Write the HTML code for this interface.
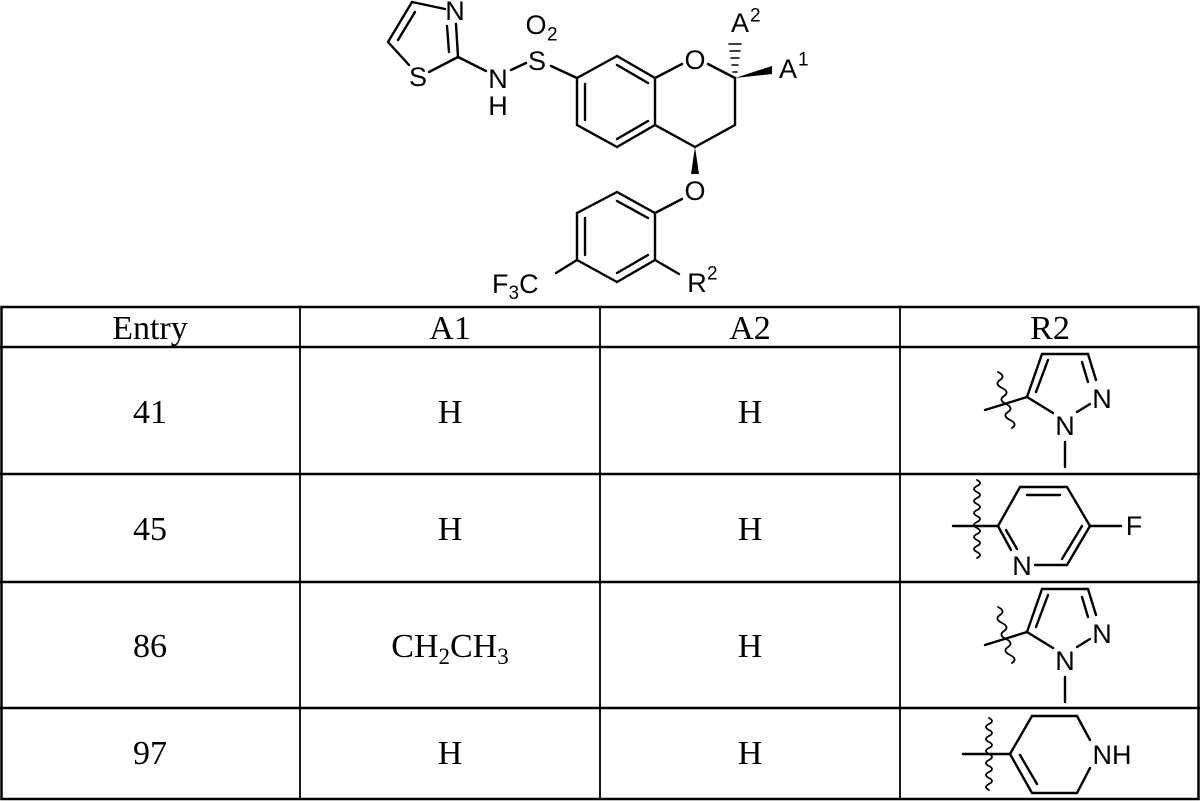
<!DOCTYPE html>
<html><head><meta charset="utf-8"><style>
html,body{margin:0;padding:0;background:#fff}
svg{display:block}
.s{font-family:"Liberation Sans",Arial,sans-serif;font-size:27px;fill:#000}
.sub{font-size:19px}
.t{font-family:"Liberation Serif","Times New Roman",serif;font-size:34px;fill:#000}
.ts{font-size:23px}
</style></head><body>
<svg width="1200" height="801" viewBox="0 0 1200 801" xmlns="http://www.w3.org/2000/svg">
<g stroke="#000" stroke-width="2.4" fill="none" stroke-linecap="round">
<!-- thiazole -->
<line x1="412" y1="2" x2="445" y2="9"/>
<line x1="412" y1="2" x2="388" y2="42"/>
<line x1="415" y1="12" x2="398" y2="40"/>
<line x1="388" y1="42" x2="409" y2="65"/>
<line x1="429" y1="72" x2="458" y2="57"/>
<line x1="458" y1="57" x2="456" y2="24"/>
<line x1="449" y1="52" x2="447" y2="26"/>
<line x1="458" y1="57" x2="486" y2="71"/>
<line x1="511" y1="70" x2="526" y2="63"/>
<line x1="551" y1="66" x2="577" y2="78"/>
<!-- benzene top -->
<line x1="577" y1="78" x2="617" y2="56"/>
<line x1="617" y1="56" x2="655" y2="78"/>
<line x1="617" y1="65" x2="648" y2="83"/>
<line x1="655" y1="78" x2="655" y2="125"/>
<line x1="655" y1="125" x2="617" y2="147"/>
<line x1="648" y1="121" x2="617" y2="139"/>
<line x1="617" y1="147" x2="577" y2="125"/>
<line x1="577" y1="125" x2="577" y2="78"/>
<line x1="585" y1="120" x2="585" y2="84"/>
<!-- pyran -->
<line x1="655" y1="78" x2="682" y2="64"/>
<line x1="708" y1="64" x2="735" y2="78"/>
<line x1="735" y1="78" x2="735" y2="125"/>
<line x1="735" y1="125" x2="695" y2="147"/>
<line x1="695" y1="147" x2="655" y2="125"/>
<!-- lower ring -->
<line x1="655" y1="213" x2="682" y2="199"/>
<line x1="655" y1="213" x2="617" y2="192"/>
<line x1="617" y1="201" x2="648" y2="218"/>
<line x1="617" y1="192" x2="577" y2="213"/>
<line x1="577" y1="213" x2="577" y2="260"/>
<line x1="585" y1="218" x2="585" y2="255"/>
<line x1="577" y1="260" x2="617" y2="282"/>
<line x1="617" y1="282" x2="655" y2="260"/>
<line x1="617" y1="273" x2="648" y2="255"/>
<line x1="655" y1="260" x2="655" y2="213"/>
<line x1="577" y1="260" x2="556" y2="273"/>
<line x1="655" y1="260" x2="679" y2="274"/>
<!-- hash -->
<line x1="733" y1="72" x2="737" y2="72" stroke-width="1.5"/>
<line x1="732" y1="65" x2="738" y2="65" stroke-width="1.5"/>
<line x1="731" y1="58" x2="739" y2="58" stroke-width="1.5"/>
<line x1="730" y1="51" x2="740" y2="51" stroke-width="1.5"/>
<line x1="729" y1="44" x2="741" y2="44" stroke-width="1.5"/>
</g>
<polygon points="735,78 772,66 772,74" fill="#000"/>
<polygon points="695,147 691,174 699,174" fill="#000"/>
<g class="s" text-anchor="middle" dominant-baseline="central">
<text x="455" y="11">N</text>
<text x="418" y="77">S</text>
<text x="498" y="79">N</text>
<text x="498" y="106">H</text>
<text x="537" y="61">S</text>
<text x="536" y="25">O</text>
<text x="695" y="60">O</text>
<text x="740" y="23">A</text>
<text x="788" y="69">A</text>
<text x="695" y="191">O</text>
<text x="697" y="283">R</text>
</g>
<g class="s sub" dominant-baseline="central">
<text x="547" y="35">2</text>
<text x="750" y="16">2</text>
<text x="798" y="60">1</text>
<text x="707" y="274">2</text>
</g>
<text class="s" x="492" y="293">F<tspan class="sub" dy="6">3</tspan><tspan dy="-6">C</tspan></text>

<!-- table -->
<g stroke="#000" stroke-width="2.5" fill="none">
<rect x="1.5" y="307" width="1197" height="492"/>
<line x1="0" y1="347" x2="1200" y2="347"/>
<line x1="0" y1="474" x2="1200" y2="474"/>
<line x1="0" y1="582" x2="1200" y2="582"/>
<line x1="0" y1="708" x2="1200" y2="708"/>
<line x1="300" y1="307" x2="300" y2="800" stroke-width="1.8"/>
<line x1="600" y1="307" x2="600" y2="800" stroke-width="1.8"/>
<line x1="900" y1="307" x2="900" y2="800" stroke-width="1.8"/>
</g>
<g class="t" text-anchor="middle">
<text x="150" y="339">Entry</text><text x="450" y="339">A1</text><text x="750" y="339">A2</text><text x="1050" y="339">R2</text>
<text x="150" y="423">41</text><text x="450" y="423">H</text><text x="750" y="423">H</text>
<text x="150" y="540">45</text><text x="450" y="540">H</text><text x="750" y="540">H</text>
<text x="150" y="657">86</text><text x="450" y="657">CH<tspan class="ts" dy="7">2</tspan><tspan dy="-7">CH</tspan><tspan class="ts" dy="7">3</tspan></text><text x="750" y="657">H</text>
<text x="150" y="764">97</text><text x="450" y="764">H</text><text x="750" y="764">H</text>
</g>

<defs>
<g id="pz">
<g stroke="#000" stroke-width="2.4" fill="none" stroke-linecap="round">
<line x1="985" y1="410" x2="1027" y2="397"/>
<line x1="1027" y1="397" x2="1042" y2="354"/>
<line x1="1036" y1="392" x2="1048" y2="360"/>
<line x1="1042" y1="354" x2="1088" y2="354"/>
<line x1="1088" y1="354" x2="1096" y2="380"/>
<line x1="1082" y1="362" x2="1088" y2="382"/>
<line x1="1027" y1="397" x2="1053" y2="413"/>
<line x1="1077" y1="412" x2="1090" y2="404"/>
<line x1="1065" y1="442" x2="1065" y2="467"/>
<path d="M998,372 q8,4 2,8 q-6,4 2,8 q8,4 2,8 q-6,4 2,8 q8,4 2,8 q-6,4 2,8 q8,4 2,8" stroke-width="1.8"/>
</g>
<g class="s" text-anchor="middle" dominant-baseline="central">
<text x="1102" y="399">N</text><text x="1065" y="426">N</text>
</g>
</g>
</defs>
<use href="#pz"/>
<use href="#pz" transform="translate(0,235)"/>

<!-- pyridine -->
<g stroke="#000" stroke-width="2.4" fill="none" stroke-linecap="round">
<line x1="953" y1="526" x2="998" y2="526"/>
<line x1="998" y1="526" x2="1020" y2="487"/>
<line x1="1020" y1="487" x2="1067" y2="487"/>
<line x1="1027" y1="495" x2="1060" y2="495"/>
<line x1="1067" y1="487" x2="1090" y2="526"/>
<line x1="1090" y1="526" x2="1067" y2="565"/>
<line x1="1082" y1="526" x2="1062" y2="559"/>
<line x1="1067" y1="565" x2="1035" y2="565"/>
<line x1="998" y1="526" x2="1011" y2="550"/>
<line x1="1006" y1="530" x2="1017" y2="549"/>
<line x1="1090" y1="526" x2="1121" y2="526"/>
<path d="M977,480 q6,3 0,6 q-6,3 0,6 q6,3 0,6 q-6,3 0,6 q6,3 0,6 q-6,3 0,6 q6,3 0,6 q-6,3 0,6 q6,3 0,6 q-6,3 0,6 q6,3 0,6 q-6,3 0,6 q6,3 0,6" stroke-width="1.8"/>
</g>
<g class="s" text-anchor="middle" dominant-baseline="central">
<text x="1022" y="566">N</text><text x="1134" y="526">F</text>
</g>

<!-- tetrahydropyridine -->
<g stroke="#000" stroke-width="2.4" fill="none" stroke-linecap="round">
<line x1="963" y1="754" x2="1010" y2="754"/>
<line x1="1010" y1="754" x2="1032" y2="716"/>
<line x1="1032" y1="716" x2="1077" y2="716"/>
<line x1="1077" y1="716" x2="1090" y2="740"/>
<line x1="1090" y1="768" x2="1077" y2="793"/>
<line x1="1077" y1="793" x2="1032" y2="793"/>
<line x1="1032" y1="793" x2="1010" y2="754"/>
<line x1="1037" y1="784" x2="1020" y2="755"/>
<path d="M989,718 q6,3 0,6 q-6,3 0,6 q6,3 0,6 q-6,3 0,6 q6,3 0,6 q-6,3 0,6 q6,3 0,6 q-6,3 0,6 q6,3 0,6 q-6,3 0,6 q6,3 0,6 q-6,3 0,6" stroke-width="1.8"/>
</g>
<text class="s" x="1112" y="755" text-anchor="middle" dominant-baseline="central">NH</text>
</svg>
</body></html>
